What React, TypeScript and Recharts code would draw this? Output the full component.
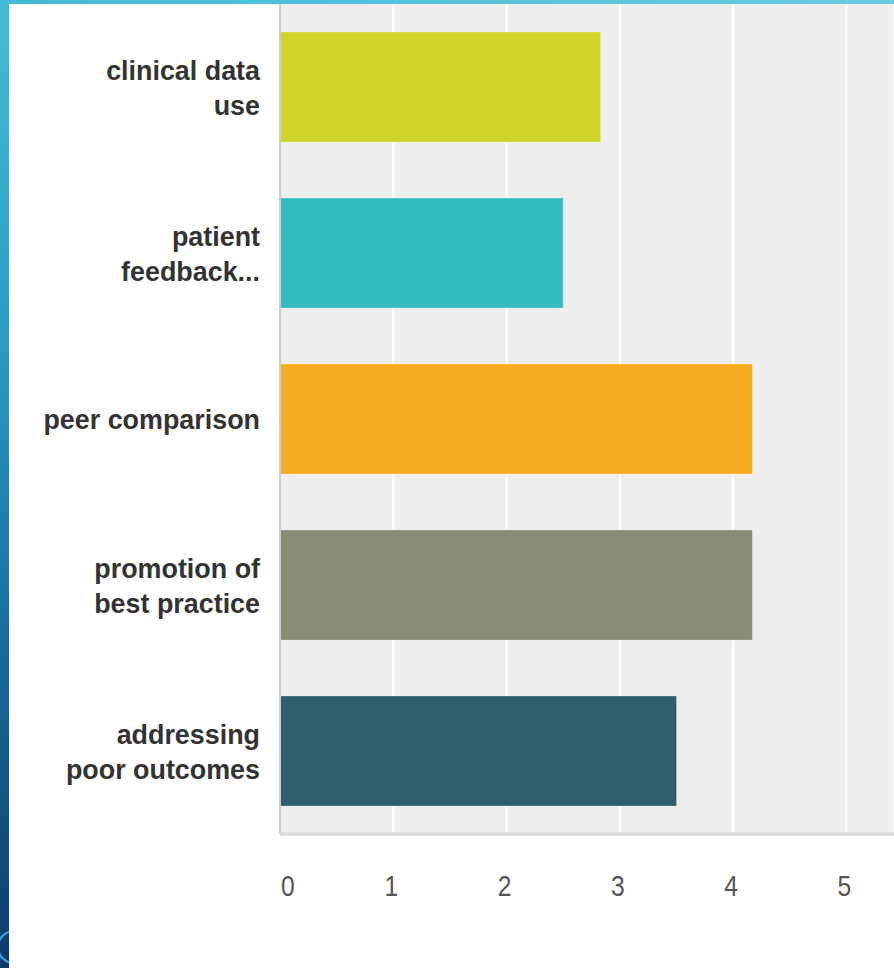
import React from "react";
import { BarChart, Bar, XAxis, YAxis, CartesianGrid, Cell } from "recharts";

const categories = [
  "clinical data use",
  "patient feedback...",
  "peer comparison",
  "promotion of best practice",
  "addressing poor outcomes",
];
const labelLines = [
  ["clinical data", "use"],
  ["patient", "feedback..."],
  ["peer comparison"],
  ["promotion of", "best practice"],
  ["addressing", "poor outcomes"],
];
const scores = [2.83, 2.5, 4.17, 4.17, 3.5];
const barColors = ["#cfd428", "#33bcc0", "#f5ad1f", "#8a8a79", "#2e5e6b"];
const xTicks = [0, 1, 2, 3, 4, 5];

const data = categories.map((name, i) => ({ name, score: scores[i] }));

const CategoryTick = (props: any) => {
  const { x, y, index } = props;
  const lines = labelLines[index] || [props.payload.value];
  const lh = 35;
  const start = -((lines.length - 1) * lh) / 2;
  return (
    <g transform={`translate(${x - 20},${y})`}>
      <text
        transform="scale(0.96,1)"
        textAnchor="end"
        fontFamily="'Liberation Sans', Arial, sans-serif"
        fontWeight="bold"
        fontSize={28}
        fill="#333"
      >
        {lines.map((l: string, i: number) => (
          <tspan key={i} x={0} y={start + i * lh} dy="0.36em">
            {l}
          </tspan>
        ))}
      </text>
    </g>
  );
};

const NumberTick = (props: any) => {
  const { x, y, payload } = props;
  const first = payload.value === 0;
  return (
    <g transform={`translate(${first ? x + 1 : x - 2},${y + 52})`}>
      <text
        transform="scale(0.85,1)"
        textAnchor={first ? "start" : "middle"}
        dy="0.36em"
        fontFamily="'Liberation Sans', Arial, sans-serif"
        fontSize={29}
        fill="#555"
      >
        {payload.value}
      </text>
    </g>
  );
};

export default function App() {
  return (
    <div
      style={{
        position: "absolute",
        left: 0,
        top: 0,
        width: 894,
        height: 968,
        background: "#fff",
        overflow: "hidden",
      }}
    >
      <div style={{ position: "absolute", left: 0, top: 0, width: 894, height: 968 }}>
        <BarChart
          width={894}
          height={968}
          data={data}
          layout="vertical"
          margin={{ top: 4, right: 0, bottom: 74, left: 0 }}
        >
          <CartesianGrid horizontal={false} stroke="#ffffff" strokeWidth={2} fill="#eeeeee" />
          <XAxis
            type="number"
            domain={[0, 5.42]}
            ticks={xTicks}
            height={60}
            axisLine={{ stroke: "#dcdcdc", strokeWidth: 4 }}
            tickLine={false}
            tickSize={0}
            tickMargin={0}
            tick={<NumberTick />}
          />
          <YAxis
            type="category"
            dataKey="name"
            width={280}
            axisLine={{ stroke: "#cccccc", strokeWidth: 2 }}
            tickLine={false}
            tickSize={0}
            tickMargin={0}
            tick={<CategoryTick />}
            interval={0}
          />
          <Bar dataKey="score" barSize={110} isAnimationActive={false}>
            {data.map((d, i) => (
              <Cell key={d.name} fill={barColors[i]} stroke="rgba(255,255,255,0.25)" strokeWidth={1} />
            ))}
          </Bar>
        </BarChart>
      </div>
      <div
        style={{
          position: "absolute",
          left: 0,
          top: 0,
          width: 894,
          height: 4,
          background: "linear-gradient(to right, #43bcd6, #66cde0)",
        }}
      />
      <div
        style={{
          position: "absolute",
          left: 0,
          top: 0,
          width: 9,
          height: 968,
          overflow: "hidden",
          background: "linear-gradient(to bottom, #42bdd8 0%, #2a9cc2 35%, #176fa0 65%, #0b3b6a 100%)",
        }}
      >
        <div
          style={{
            position: "absolute",
            left: -3,
            top: 930,
            width: 30,
            height: 30,
            borderRadius: "50%",
            border: "2px solid #3fa6e6",
          }}
        />
      </div>
    </div>
  );
}
